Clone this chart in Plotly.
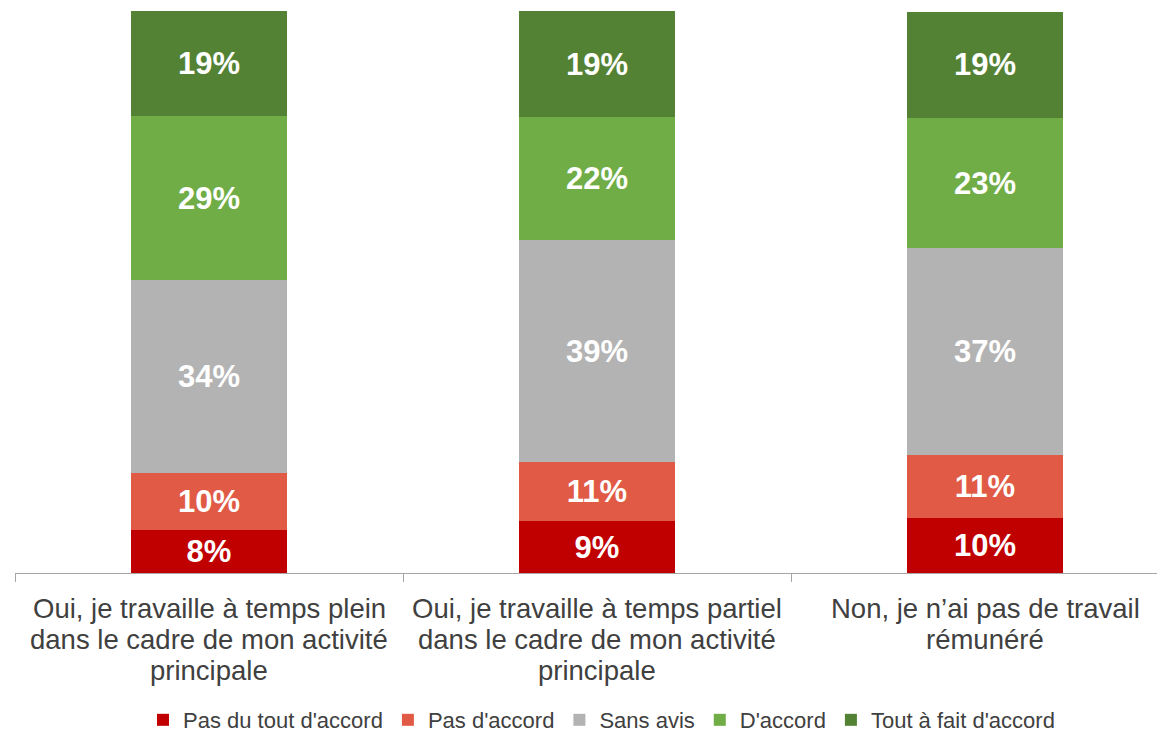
import plotly.graph_objects as go

categories = [
    "Oui, je travaille à temps plein<br>dans le cadre de mon activité<br>principale",
    "Oui, je travaille à temps partiel<br>dans le cadre de mon activité<br>principale",
    "Non, je n’ai pas de travail<br>rémunéré",
]
series_names = ["Pas du tout d'accord", "Pas d'accord", "Sans avis", "D'accord", "Tout à fait d'accord"]
pas_du_tout = [7.65, 9.25, 9.7]
pas_accord = [10.1, 10.5, 11.3]
sans_avis = [34.4, 39.5, 36.8]
accord = [29.1, 21.9, 23.1]
tout_a_fait = [18.8, 18.8, 19.0]
labels_pas_du_tout = ["8%", "9%", "10%"]
labels_pas_accord = ["10%", "11%", "11%"]
labels_sans_avis = ["34%", "39%", "37%"]
labels_accord = ["29%", "22%", "23%"]
labels_tout_a_fait = ["19%", "19%", "19%"]
colors = ["#C00000", "#E05A45", "#B3B3B3", "#70AD47", "#548235"]

series_values = [pas_du_tout, pas_accord, sans_avis, accord, tout_a_fait]
series_labels = [labels_pas_du_tout, labels_pas_accord, labels_sans_avis, labels_accord, labels_tout_a_fait]

FONT = "Liberation Sans"

fig = go.Figure()
for name, vals, labs, col in zip(series_names, series_values, series_labels, colors):
    fig.add_trace(go.Bar(
        x=categories, y=vals, name=name, text=labs,
        marker=dict(color=col, line=dict(width=0)),
        textposition="inside", insidetextanchor="middle", constraintext="none",
        textangle=0,
        textfont=dict(family=FONT, size=31, color="white", weight="bold"),
        hoverinfo="skip",
    ))

# category labels, one annotation per line for tight line spacing
for cat in categories:
    for i, line in enumerate(cat.split("<br>")):
        fig.add_annotation(
            x=cat, xref="x", y=0, yref="paper", yanchor="middle", xanchor="center",
            yshift=-(35 + 31 * i), text=line, showarrow=False,
            font=dict(family=FONT, size=27.5, color="#404040"),
        )

fig.update_layout(
    width=1157, height=726,
    barmode="stack", bargap=0.6,
    plot_bgcolor="white", paper_bgcolor="white",
    margin=dict(l=7, r=0, t=3, b=161, autoexpand=False),
    font=dict(family=FONT, color="#404040"),
    showlegend=True,
    legend=dict(orientation="h", x=0.51, xanchor="center", y=-0.2616, yanchor="middle",
                font=dict(family=FONT, size=22, color="#404040"), traceorder="normal"),
)
fig.update_xaxes(
    type="category", range=[-0.5, -0.5 + 1150 / 388],
    showline=True, linecolor="#A6A6A6", linewidth=1,
    ticks="outside", tickson="boundaries", ticklen=8, tickcolor="#A6A6A6",
    showticklabels=False, showgrid=False,
)
fig.update_yaxes(range=[0, 100], visible=False, showgrid=False)

fig.write_html("out.html")
